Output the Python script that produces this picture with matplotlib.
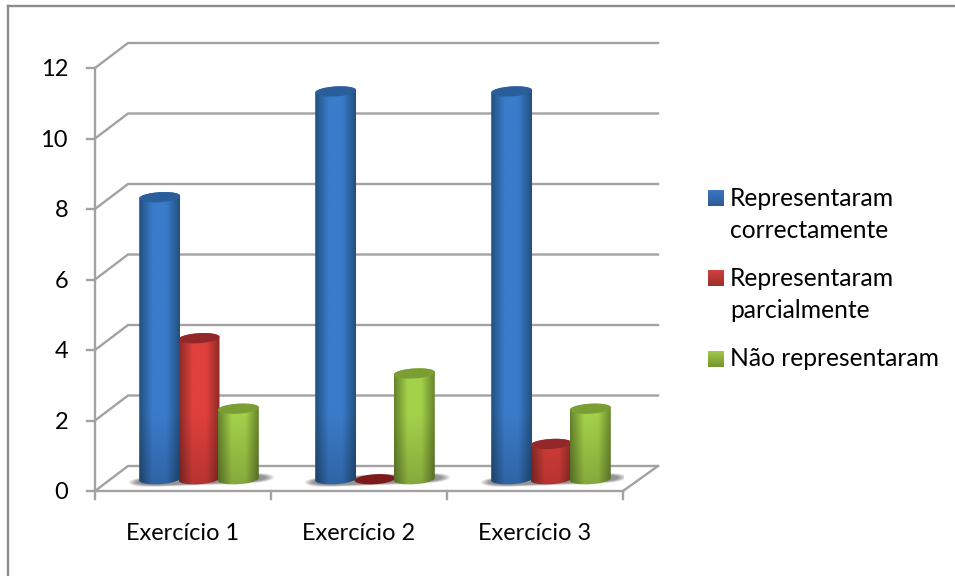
"""Exercícios: barras cilíndricas com aspeto 3D, desenhadas em matplotlib."""

import numpy as np
import matplotlib
matplotlib.use("Agg")
import matplotlib.pyplot as plt
from matplotlib.colors import LinearSegmentedColormap, to_rgb
from matplotlib.patches import Polygon
from matplotlib.lines import Line2D

# ── Dados ────────────────────────────────────────────────
EXERCICIOS = ["Exercício 1", "Exercício 2", "Exercício 3"]
CORRECTAMENTE = [8, 11, 11]
PARCIALMENTE = [4, 0, 1]
NAO_REPRESENTARAM = [2, 3, 2]
SERIES = [CORRECTAMENTE, PARCIALMENTE, NAO_REPRESENTARAM]
Y_TICKS = [0, 2, 4, 6, 8, 10, 12]

# ── Cores: borda escura, centro claro, topo ──────────────
CORES = [
    ("#22507f", "#3a7ccb", "#2a5f9c"),
    ("#8c2a28", "#e0403c", "#93282a"),
    ("#66832c", "#a4d14a", "#7a9e34"),
]
LEGENDA = [
    (["Representaram", "correctamente"], 198, "#3b78c4", "#2c5c98"),
    (["Representaram", "parcialmente"], 278, "#d2403c", "#99302e"),
    (["Não representaram"], 359, "#a0c84a", "#76962f"),
]

W, H = 955, 576
X0, X1 = 95, 623      # eixo frontal em x (px)
Y0, Y12 = 491, 68     # eixo frontal em y (px)
PX_X = (X1 - X0) / 3
PX_Y = (Y0 - Y12) / 12
DX = 33 / PX_X        # profundidade do "chão"
DY = 25 / PX_Y
GRID = "#a2a2a2"
LW = 1.7
RX = 20.5 / PX_X
RY = 5.0 / PX_Y
INCL = 0.06 * PX_X / PX_Y   # inclinação das elipses, em unidades de dados
BASE = DY / 2 - 0.02

fig = plt.figure(figsize=(W / 100, H / 100), dpi=100)
plt.rcParams["font.family"] = ["Lato", "DejaVu Sans"]
ax = fig.add_axes([X0 / W, 1 - Y0 / H, (X1 - X0) / W, (Y0 - Y12) / H])
ax.axis("off")

# Moldura exterior: só há traço em cima e à esquerda
fig.add_artist(Line2D([8 / W, 8 / W], [0, 1 - 6 / H], color="#8c8c8c", lw=LW))
fig.add_artist(Line2D([8 / W, 1], [1 - 6 / H, 1 - 6 / H], color="#8c8c8c", lw=LW))

# Grelha: linha na parede de fundo + diagonal até ao eixo
for v in Y_TICKS:
    ax.plot([0, DX, 3 + DX * 1.06], [v, v + DY, v + DY], color=GRID, lw=LW,
            clip_on=False, solid_joinstyle="miter", zorder=1)
ax.plot([3, 3 + DX * 1.06], [0, DY], color=GRID, lw=LW, clip_on=False, zorder=1)

# Eixos frontais e marcas
ax.plot([0, 0], [0, 12], color=GRID, lw=LW, clip_on=False, zorder=2)
ax.plot([0, 3], [0, 0], color=GRID, lw=LW, clip_on=False, zorder=2)
for v in Y_TICKS:
    ax.plot([-8 / PX_X, 0], [v, v], color=GRID, lw=LW, clip_on=False, zorder=2)
    ax.text(-27 / PX_X, v - 0.05, str(v), ha="right", va="center", fontsize=17,
            color="black")
for i in range(4):
    ax.plot([i, i], [0, -8 / PX_Y], color=GRID, lw=LW, clip_on=False, zorder=2)
for i, nome in enumerate(EXERCICIOS):
    ax.text(i + 0.5, -42 / PX_Y, nome, ha="center", va="center", fontsize=16.9,
            color="black")


def sombra(x0, x1):
    # Sombra desfocada no chão, com as pontas a afinar para os lados
    u = np.linspace(-1, 1, 240)
    v = np.linspace(-1, 1, 60)
    uu, vv = np.meshgrid(u, v)
    vc = (vv + 0.1) - 0.3 * uu
    r = np.abs(uu) ** 6 + np.abs(vc / 0.62) ** 2
    alpha = 0.62 * np.clip((1 - r) / 0.55, 0, 1)
    rgba = np.zeros(alpha.shape + (4,))
    rgba[..., :3] = 0.33
    rgba[..., 3] = alpha
    ax.imshow(rgba, aspect="auto", origin="lower", zorder=3,
              extent=[x0, x1, BASE - 9 / PX_Y, BASE + 9 / PX_Y],
              interpolation="bilinear")


def contorno(xc, yc, ini, fim):
    t = np.linspace(ini, fim, 40)
    x = RX * np.cos(t)
    return np.column_stack([xc + x, yc + RY * np.sin(t) + x * INCL])


def cilindro(xc, valor, cores, z):
    esq, centro, topo = cores
    if valor > 0:
        baixo = contorno(xc, BASE, np.pi, 2 * np.pi)
        cima = contorno(xc, BASE + valor, 0, np.pi)
        corpo = Polygon(np.vstack([baixo, cima]), closed=True, fc="none", ec="none",
                        zorder=z)
        ax.add_patch(corpo)
        # Gradiente lateral, a escurecer só nos primeiros píxeis acima da base
        cmap = LinearSegmentedColormap.from_list("c", [esq, centro, centro, esq])
        lateral = cmap(np.linspace(0, 1, 128))[:, :3]
        alto_px = np.linspace(0, (valor + 4 * RY) * PX_Y, 120)
        escurecer = 0.8 + 0.2 * np.clip(alto_px / 75, 0, 1)
        img = lateral[None, :, :] * escurecer[:, None, None]
        extent = [xc - RX, xc + RX, BASE - 2 * RY, BASE + valor + 2 * RY]
        im = ax.imshow(img, aspect="auto", origin="lower", extent=extent, zorder=z,
                       interpolation="bilinear")
        im.set_clip_path(corpo)
        cor_topo = topo
    else:
        cor_topo = "#7e1a1c"
    ax.add_patch(Polygon(contorno(xc, BASE + valor, 0, 2 * np.pi), closed=True,
                         fc=to_rgb(cor_topo), ec="none", zorder=z + 0.1))


# Barras: três cilindros encostados em cada grupo
GAP = 39.3 / PX_X
for i in range(len(EXERCICIOS)):
    xc = i + 64.7 / PX_X
    sombra(xc - 32 / PX_X, xc + 2 * GAP + 36 / PX_X)
    for s, serie in enumerate(SERIES):
        cilindro(xc + s * GAP, serie[i], CORES[s], 4 + s)

ax.set_xlim(0, 3)
ax.set_ylim(0, 12)

# Legenda
for linhas, y, claro, escuro in LEGENDA:
    grad = LinearSegmentedColormap.from_list("l", [claro, escuro])
    lax = fig.add_axes([708 / W, 1 - (y + 8) / H, 16 / W, 16 / H])
    lax.imshow(np.linspace(0, 1, 16)[:, None], cmap=grad, aspect="auto")
    lax.axis("off")
    for j, txt in enumerate(linhas):
        fig.text(730 / W, 1 - (y + j * 32.5) / H, txt, ha="left", va="center",
                 fontsize=17.7, color="black")

fig.savefig("out.png", dpi=100)
